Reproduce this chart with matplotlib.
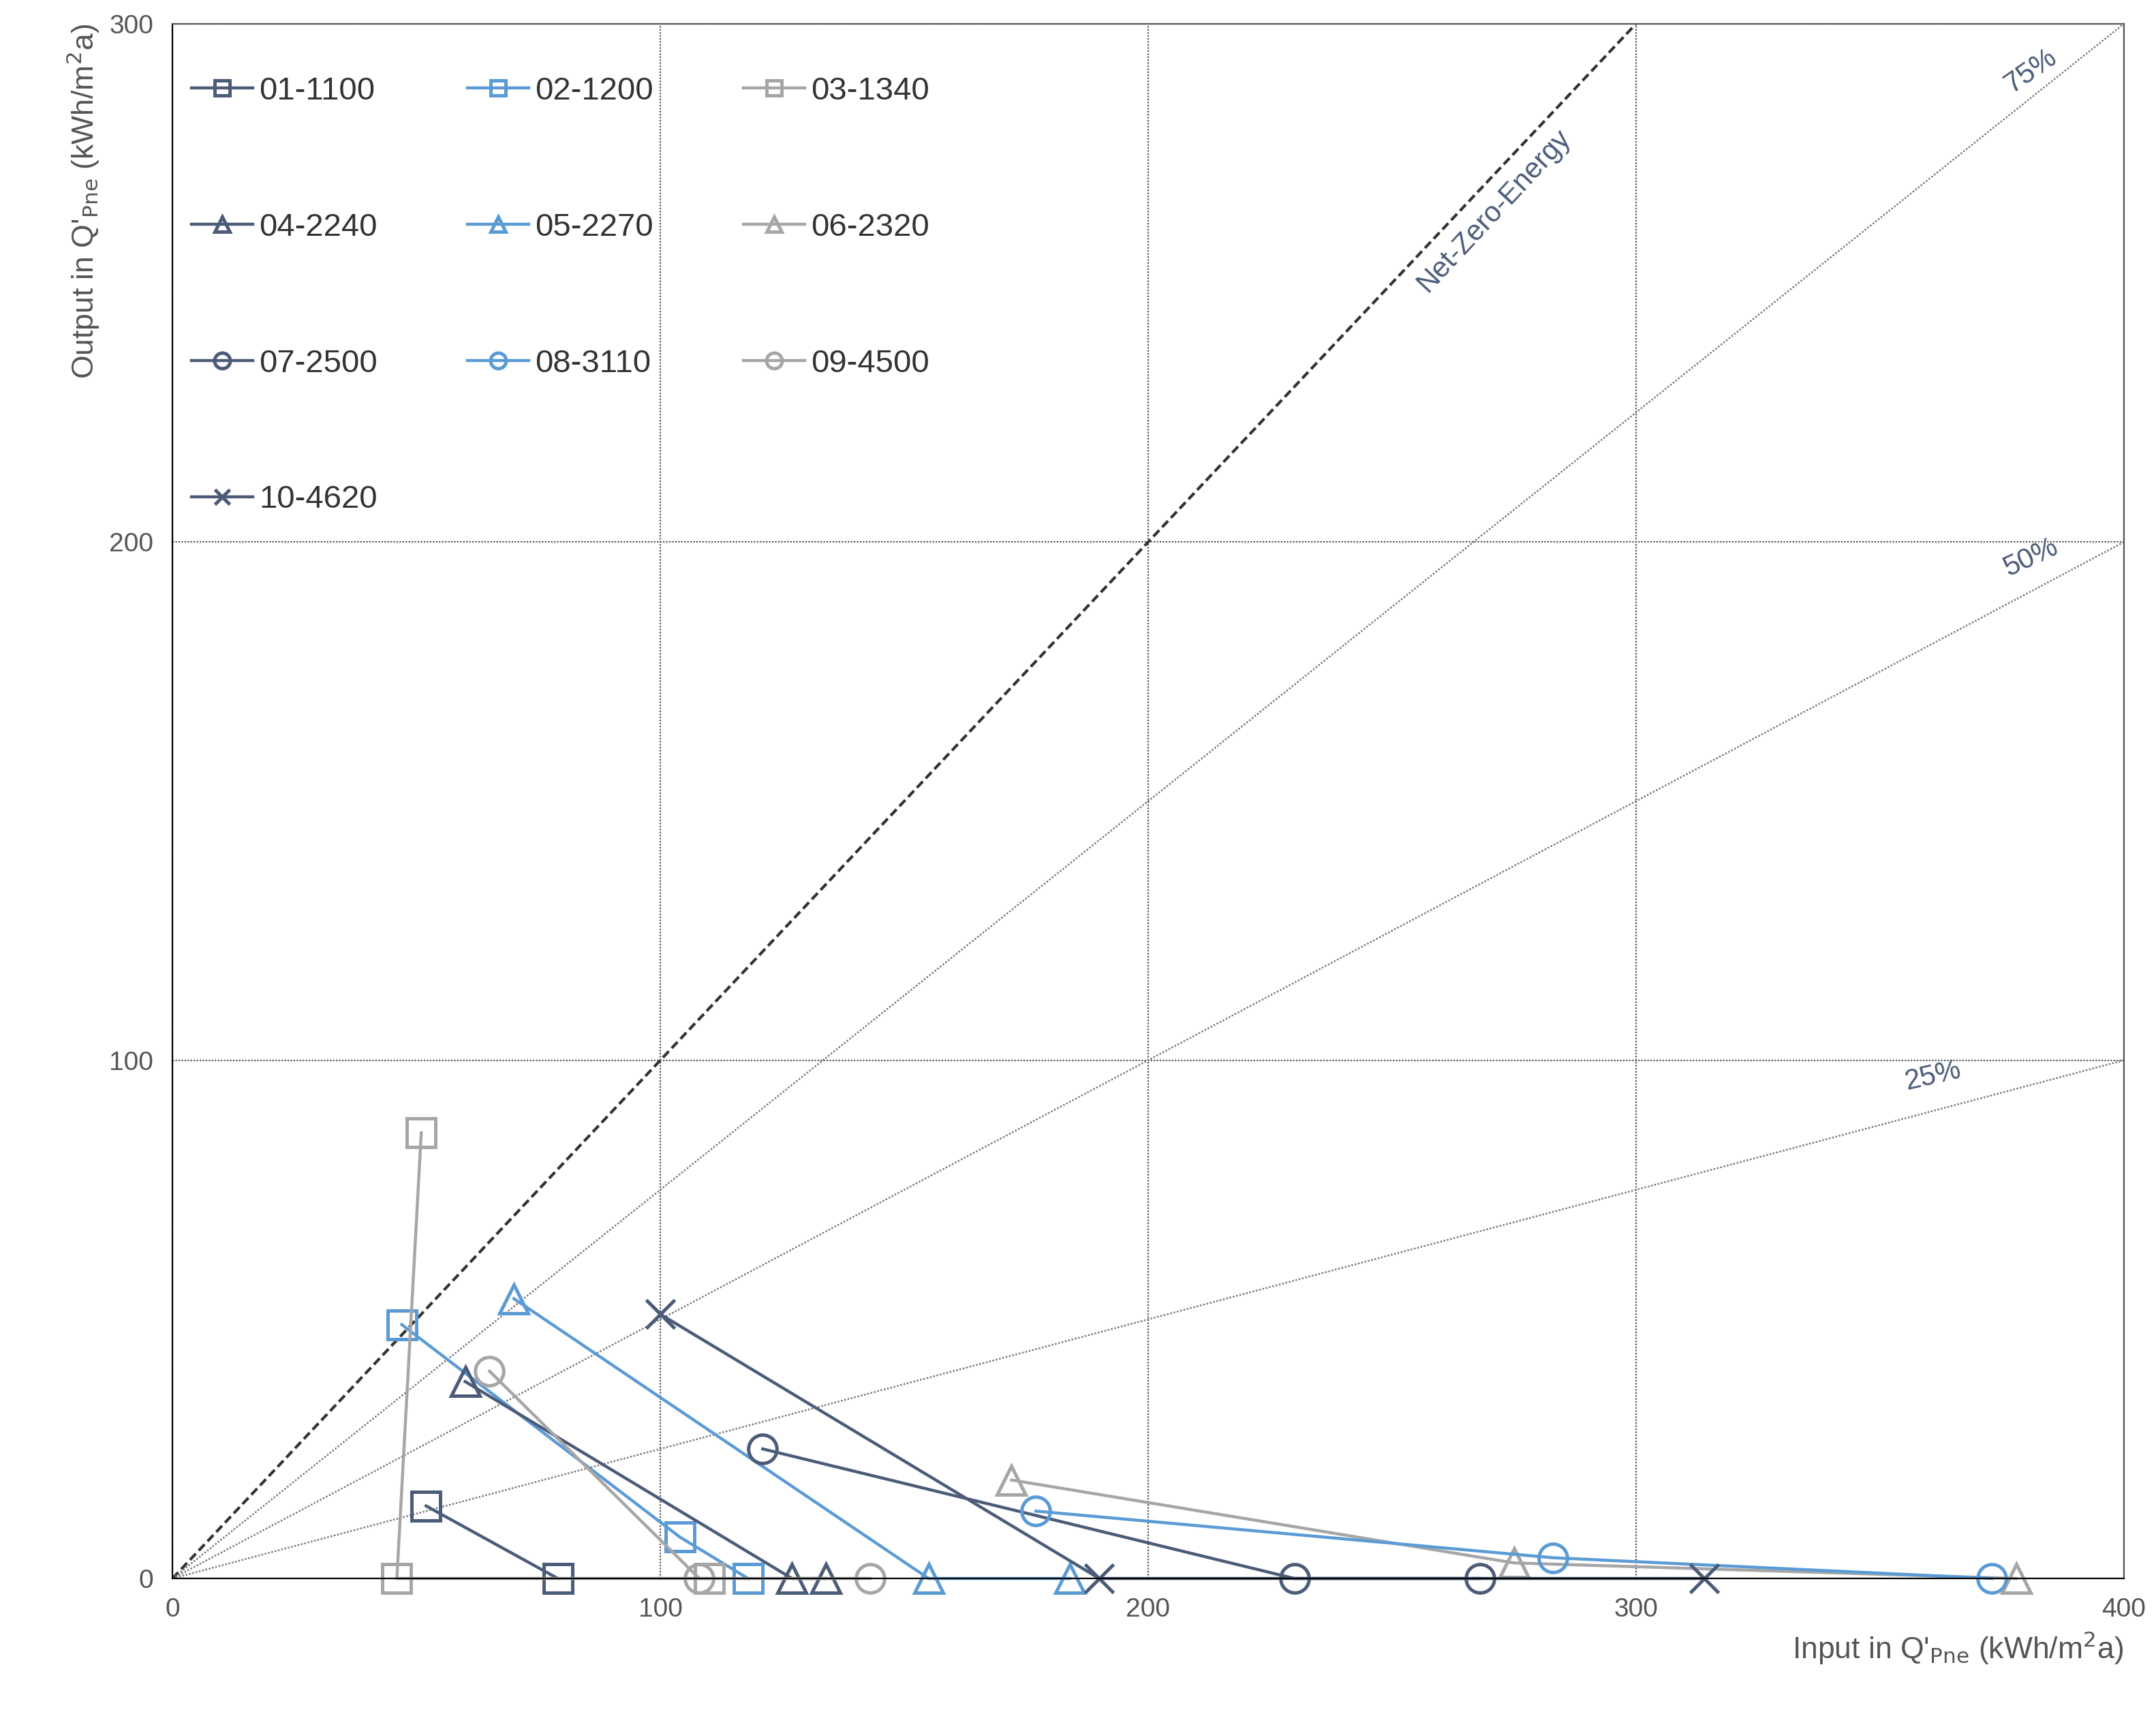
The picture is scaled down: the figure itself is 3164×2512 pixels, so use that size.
import matplotlib
matplotlib.use("Agg")
import matplotlib.pyplot as plt
plt.rcParams['font.family'] = ['Liberation Sans', 'DejaVu Sans']

names = ["01-1100","02-1200","03-1340","04-2240","05-2270","06-2320","07-2500","08-3110","09-4500","10-4620"]
xs = [[52,79],[47,104,118],[51,46,110],[60,127,134],[70,155,184],[172,275,378],[121,230,268],[177,283,373],[65,108,143],[100,190,314]]
ys = [[14,0],[49,8,0],[86,0,0],[38,0,0],[54,0,0],[19,3,0],[25,0,0],[13,4,0],[40,0,0],[51,0,0]]
dark, blue, gray = "#4b5b78", "#5b9bd5", "#a6a6a6"
colors = [dark,blue,gray,dark,blue,gray,dark,blue,gray,dark]
markers = ["s","s","s","^","^","^","o","o","o","x"]

fig = plt.figure(figsize=(15.82,12.56), dpi=200)
ax = fig.add_axes([0.08,0.078,0.905,0.908])
ax.set_xlim(0,400); ax.set_ylim(0,300)
ax.set_xticks([0,100,200,300,400]); ax.set_yticks([0,100,200,300])
ax.grid(True, color="#555555", linestyle=(0,(1,1)), linewidth=0.8)
for s in ["top","right"]:
    ax.spines[s].set_linestyle((0,(1,1))); ax.spines[s].set_color("#555555")
ax.tick_params(length=0, labelsize=14, labelcolor="#555555", pad=10)

ax.plot([0,300],[0,300], color="#333333", linestyle=(0,(3,1.5)), linewidth=1.5)
for f, lab in [(0.75,"75%"),(0.5,"50%"),(0.25,"25%")]:
    ax.plot([0,400],[0,400*f], color="#777777", linestyle=(0,(1,1)), linewidth=0.9)
ax.text(271,264,"Net-Zero-Energy", rotation=47, color="#4b5b78", fontsize=15, ha="center", va="center")
ax.text(381,291,"75%", rotation=35, color="#4b5b78", fontsize=15, ha="center", va="center")
ax.text(381,197,"50%", rotation=25, color="#4b5b78", fontsize=15, ha="center", va="center")
ax.text(361,97,"25%", rotation=13, color="#4b5b78", fontsize=15, ha="center", va="center")

handles = {}
for n,x,y,c,m in zip(names,xs,ys,colors,markers):
    h, = ax.plot(x,y,color=c,linewidth=1.6,marker=m,markersize=15,markerfacecolor="none",
            markeredgewidth=1.8,label=n,clip_on=False)
    handles[n] = h
order = [0,3,6,9,1,4,7,2,5,8]
leg = ax.legend([handles[names[i]] for i in order], [names[i] for i in order],
                loc="upper left", ncol=3, frameon=False, fontsize=17, markerscale=0.55,
                handlelength=1.9, handletextpad=0.2, labelspacing=3.3, columnspacing=2.8,
                bbox_to_anchor=(-0.005,0.985))
for t in leg.get_texts(): t.set_color("#333333")
ax.set_xlabel("Input in Q'$_{\\rm Pne}$ (kWh/m$^2$a)", fontsize=16, color="#555555", loc="right")
ax.set_ylabel("Output in Q'$_{\\rm Pne}$ (kWh/m$^2$a)", fontsize=16, color="#555555", loc="top")
fig.savefig("out.png", dpi=200)
